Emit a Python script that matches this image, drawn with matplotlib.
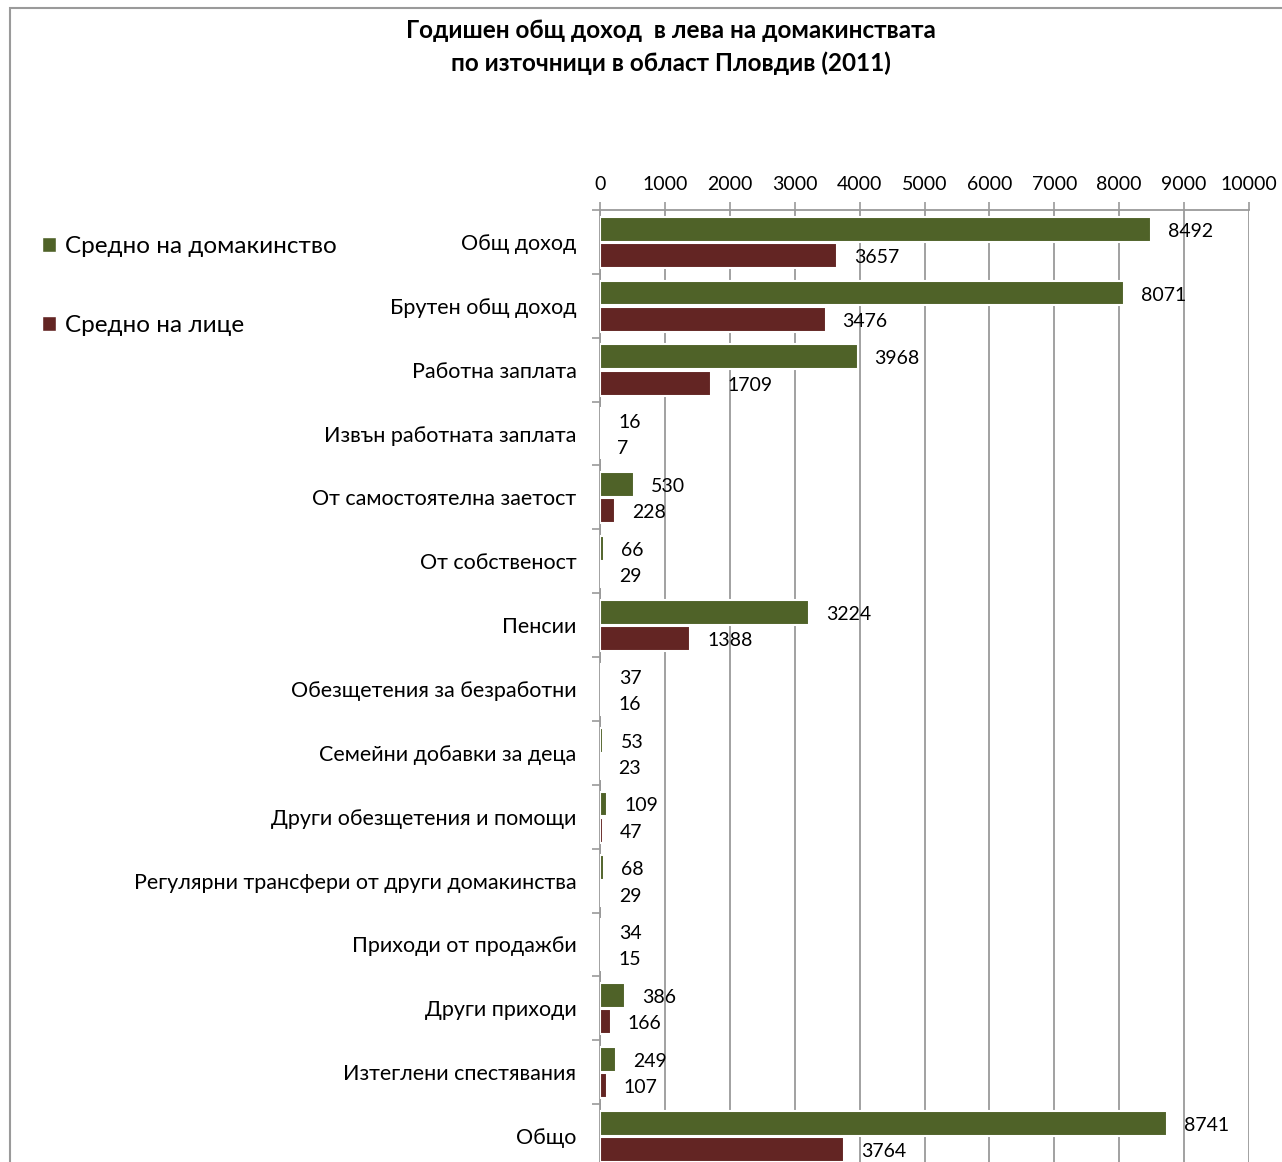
import matplotlib.pyplot as plt
from matplotlib.patches import Rectangle, Patch

categories = [
    "Общ доход",
    "Брутен общ доход",
    "Работна заплата",
    "Извън работната заплата",
    "От самостоятелна заетост",
    "От собственост",
    "Пенсии",
    "Обезщетения за безработни",
    "Семейни добавки за деца",
    "Други обезщетения и помощи",
    "Регулярни трансфери от други домакинства",
    "Приходи от продажби",
    "Други приходи",
    "Изтеглени спестявания",
    "Общо",
]
per_household = [8492, 8071, 3968, 16, 530, 66, 3224, 37, 53, 109, 68, 34, 386, 249, 8741]
per_person = [3657, 3476, 1709, 7, 228, 29, 1388, 16, 23, 47, 29, 15, 166, 107, 3764]
x_ticks = list(range(0, 10001, 1000))

title = "Годишен общ доход  в лева на домакинствата\nпо източници в област Пловдив (2011)"
label_household = "Средно на домакинство"
label_person = "Средно на лице"

green = "#4F6228"
red = "#632523"
gray = "#9a9a9a"

plt.rcParams['font.family'] = ['Lato', 'DejaVu Sans']

W, H = 1282, 1162
fig = plt.figure(figsize=(W / 100, H / 100), dpi=100)

# chart frame
fig.patches.append(Rectangle((10 / W, -0.1), 1.1, 1 - 8 / H + 0.1, transform=fig.transFigure,
                             fill=False, edgecolor=gray, linewidth=1.5))

ax = fig.add_axes([600 / W, 1 - 1168 / H, (1249 - 600) / W, (1168 - 210) / H])

pos = list(range(len(categories)))
h = 0.39
ax.barh([p - 0.2 for p in pos], per_household, height=h, color=green,
        edgecolor="white", linewidth=1.5, zorder=3)
ax.barh([p + 0.21 for p in pos], per_person, height=h, color=red,
        edgecolor="white", linewidth=1.5, zorder=3)

for p, v in zip(pos, per_household):
    ax.annotate(str(v), (v, p - 0.2), xytext=(17, -2), textcoords="offset pixels",
                ha="left", va="center", fontsize=14, zorder=4)
for p, v in zip(pos, per_person):
    ax.annotate(str(v), (v, p + 0.21), xytext=(17, -2), textcoords="offset pixels",
                ha="left", va="center", fontsize=14, zorder=4)

ax.set_xlim(0, 10000)
ax.set_ylim(len(categories) - 0.5, -0.5)

ax.xaxis.tick_top()
ax.set_xticks(x_ticks)
ax.set_xticklabels([str(t) for t in x_ticks])
ax.tick_params(axis="x", direction="out", length=6, width=1.2, color=gray,
               labelsize=14, pad=6)
ax.grid(axis="x", color=gray, linewidth=1.3, zorder=0)

ax.set_yticks(pos)
ax.set_yticklabels(categories)
ax.set_yticks([p - 0.5 for p in pos] + [len(pos) - 0.5], minor=True)
ax.tick_params(axis="y", which="major", length=0, labelsize=15.5, pad=17)
ax.tick_params(axis="y", which="minor", direction="out", length=6, width=1.2, color=gray)

for s in ["right", "bottom"]:
    ax.spines[s].set_visible(False)
for s in ["top", "left"]:
    ax.spines[s].set_color(gray)
    ax.spines[s].set_linewidth(1.3)

fig.text(671 / W, 1 - 47 / H, title, ha="center", va="center", fontsize=17.5,
         fontweight="bold", linespacing=1.45)

handles = [Patch(facecolor=green, edgecolor="white"), Patch(facecolor=red, edgecolor="white")]
fig.legend(handles, [label_household, label_person], loc="upper left",
           bbox_to_anchor=(20 / W, 1 - 214 / H), frameon=False, fontsize=17.5,
           handlelength=0.6, handleheight=0.6, handletextpad=0.35, labelspacing=2.4)

fig.savefig("out.png", dpi=100)
